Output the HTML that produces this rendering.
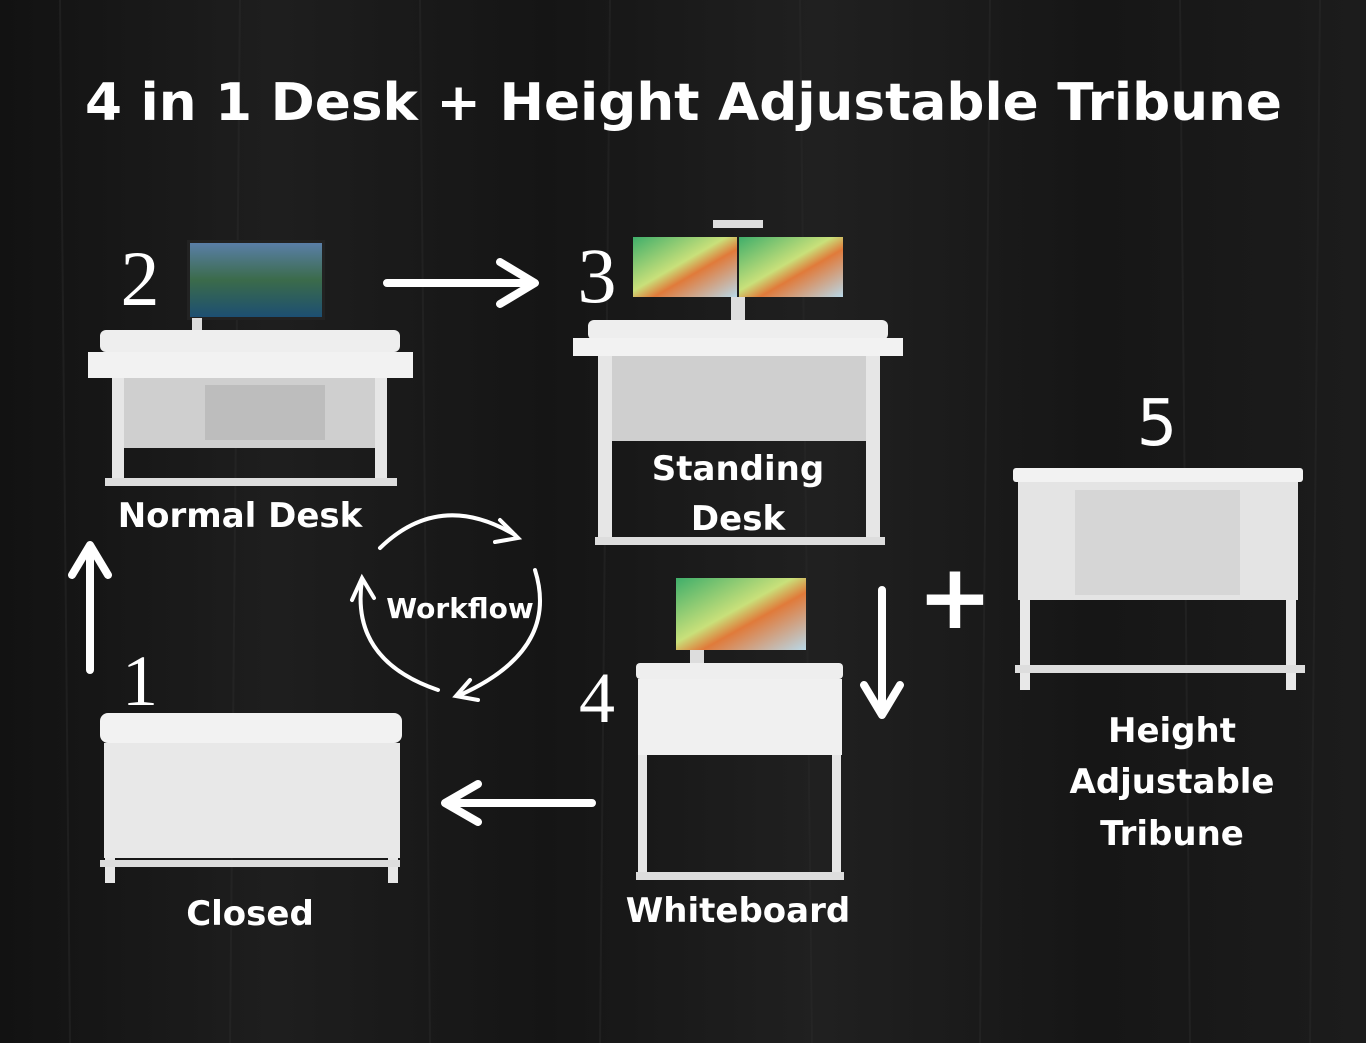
<!DOCTYPE html>
<html><head><meta charset="utf-8">
<style>
html,body{margin:0;padding:0;background:#161616;}
svg{display:block}
text{font-family:"DejaVu Sans","Liberation Sans",sans-serif;fill:#fff;}
</style></head>
<body>
<svg width="1366" height="1043" viewBox="0 0 1366 1043" xmlns="http://www.w3.org/2000/svg">
<defs>
<linearGradient id="bg" x1="0" y1="0" x2="1" y2="0">
<stop offset="0" stop-color="#121212"/><stop offset="0.2" stop-color="#1e1e1e"/>
<stop offset="0.4" stop-color="#151515"/><stop offset="0.6" stop-color="#202020"/>
<stop offset="0.8" stop-color="#161616"/><stop offset="1" stop-color="#1c1c1c"/>
</linearGradient>
<linearGradient id="scr" x1="0" y1="0" x2="1" y2="1">
<stop offset="0" stop-color="#3fae6a"/><stop offset="0.45" stop-color="#c9e07a"/>
<stop offset="0.6" stop-color="#e07a3a"/><stop offset="1" stop-color="#b8d8e8"/>
</linearGradient>
<linearGradient id="mac" x1="0" y1="0" x2="0" y2="1">
<stop offset="0" stop-color="#5a7fa8"/><stop offset="0.5" stop-color="#3b6b4a"/><stop offset="1" stop-color="#1d4f72"/>
</linearGradient>
</defs>
<rect width="1366" height="1043" fill="url(#bg)"/>
<g stroke="#2a2a2a" stroke-width="2" opacity="0.5">
<line x1="60" y1="0" x2="70" y2="1043"/><line x1="240" y1="0" x2="230" y2="1043"/>
<line x1="420" y1="0" x2="430" y2="1043"/><line x1="610" y1="0" x2="600" y2="1043"/>
<line x1="800" y1="0" x2="812" y2="1043"/><line x1="990" y1="0" x2="980" y2="1043"/>
<line x1="1180" y1="0" x2="1190" y2="1043"/><line x1="1320" y1="0" x2="1310" y2="1043"/>
</g>

<text x="85" y="120" font-size="52" font-weight="bold" textLength="1197" lengthAdjust="spacingAndGlyphs">4 in 1 Desk + Height Adjustable Tribune</text>

<!-- Desk 2 -->
<g>
<rect x="187" y="240" width="138" height="80" fill="#222"/>
<rect x="190" y="243" width="132" height="74" fill="url(#mac)"/>
<rect x="192" y="318" width="10" height="14" fill="#ddd"/>
<rect x="100" y="330" width="300" height="22" rx="6" fill="#eee"/>
<rect x="88" y="352" width="325" height="26" fill="#f2f2f2"/>
<rect x="120" y="378" width="265" height="70" fill="#cfcfcf"/>
<rect x="205" y="385" width="120" height="55" fill="#bdbdbd"/>
<rect x="112" y="378" width="12" height="105" fill="#e6e6e6"/>
<rect x="375" y="378" width="12" height="105" fill="#e6e6e6"/>
<rect x="105" y="478" width="292" height="8" fill="#ddd"/>
</g>
<text x="140" y="305" text-anchor="middle" font-size="78" style="font-family:'Liberation Serif',serif">2</text>
<text x="240" y="527" text-anchor="middle" font-size="34" font-weight="bold">Normal Desk</text>

<!-- Desk 3 -->
<g>
<rect x="713" y="220" width="50" height="8" fill="#ddd"/>
<rect x="633" y="237" width="104" height="60" fill="url(#scr)"/>
<rect x="739" y="237" width="104" height="60" fill="url(#scr)"/>
<rect x="731" y="297" width="14" height="25" fill="#ddd"/>
<rect x="588" y="320" width="300" height="20" rx="6" fill="#eee"/>
<rect x="573" y="338" width="330" height="18" fill="#f2f2f2"/>
<rect x="610" y="356" width="258" height="85" fill="#cfcfcf"/>
<rect x="598" y="356" width="14" height="185" fill="#e6e6e6"/>
<rect x="866" y="356" width="14" height="185" fill="#e6e6e6"/>
<rect x="595" y="537" width="290" height="8" fill="#ddd"/>
</g>
<text x="597" y="302" text-anchor="middle" font-size="78" style="font-family:'Liberation Serif',serif">3</text>
<text x="738" y="480" text-anchor="middle" font-size="34" font-weight="bold">Standing</text>
<text x="738" y="530" text-anchor="middle" font-size="34" font-weight="bold">Desk</text>

<!-- Tribune 5 -->
<g>
<rect x="1013" y="468" width="290" height="14" rx="3" fill="#f2f2f2"/>
<rect x="1018" y="482" width="280" height="118" fill="#e4e4e4"/>
<rect x="1075" y="490" width="165" height="105" fill="#d6d6d6"/>
<rect x="1020" y="600" width="10" height="90" fill="#e8e8e8"/>
<rect x="1286" y="600" width="10" height="90" fill="#e8e8e8"/>
<rect x="1015" y="665" width="290" height="8" fill="#ddd"/>
</g>
<text x="1157" y="445" text-anchor="middle" font-size="64">5</text>
<text x="1172" y="742" text-anchor="middle" font-size="34" font-weight="bold">Height</text>
<text x="1172" y="793" text-anchor="middle" font-size="34" font-weight="bold">Adjustable</text>
<text x="1172" y="845" text-anchor="middle" font-size="34" font-weight="bold">Tribune</text>
<text x="955" y="628" text-anchor="middle" font-size="90" font-weight="bold">+</text>

<!-- Desk 4 -->
<g>
<rect x="676" y="578" width="130" height="72" fill="url(#scr)"/>
<rect x="690" y="650" width="14" height="14" fill="#ddd"/>
<rect x="636" y="663" width="207" height="16" rx="4" fill="#eee"/>
<rect x="638" y="679" width="204" height="76" fill="#f0f0f0"/>
<rect x="638" y="755" width="9" height="125" fill="#e6e6e6"/>
<rect x="832" y="755" width="9" height="125" fill="#e6e6e6"/>
<rect x="636" y="872" width="208" height="8" fill="#ddd"/>
</g>
<text x="597" y="722" text-anchor="middle" font-size="72" style="font-family:'Liberation Serif',serif">4</text>
<text x="738" y="922" text-anchor="middle" font-size="34" font-weight="bold">Whiteboard</text>

<!-- Desk 1 -->
<g>
<rect x="100" y="713" width="302" height="30" rx="8" fill="#f2f2f2"/>
<rect x="104" y="743" width="296" height="115" fill="#e8e8e8"/>
<rect x="105" y="858" width="10" height="25" fill="#e6e6e6"/>
<rect x="388" y="858" width="10" height="25" fill="#e6e6e6"/>
<rect x="100" y="860" width="300" height="7" fill="#ddd"/>
</g>
<text x="140" y="705" text-anchor="middle" font-size="72" style="font-family:'Liberation Serif',serif">1</text>
<text x="250" y="925" text-anchor="middle" font-size="34" font-weight="bold">Closed</text>

<!-- Arrows -->
<g stroke="#fff" stroke-width="8" fill="none" stroke-linecap="round" stroke-linejoin="round">
<path d="M387 283 L532 283 M500 262 L535 283 L500 304"/>
<path d="M90 670 L90 548 M72 575 L90 545 L108 575"/>
<path d="M882 590 L882 715 M864 685 L882 715 L900 685"/>
<path d="M592 803 L448 803 M478 784 L445 803 L478 822"/>
</g>
<g stroke="#fff" stroke-width="4" fill="none" stroke-linecap="round">
<path d="M380 548 Q440 490 515 535"/>
<path d="M500 520 L518 538 L495 542"/>
<path d="M535 570 Q560 650 460 695"/>
<path d="M470 680 L456 696 L478 700"/>
<path d="M438 690 Q350 660 362 580"/>
<path d="M352 600 L362 578 L374 598"/>
</g>
<text x="460" y="618" text-anchor="middle" font-size="28" font-weight="bold">Workflow</text>
</svg>
</body></html>
